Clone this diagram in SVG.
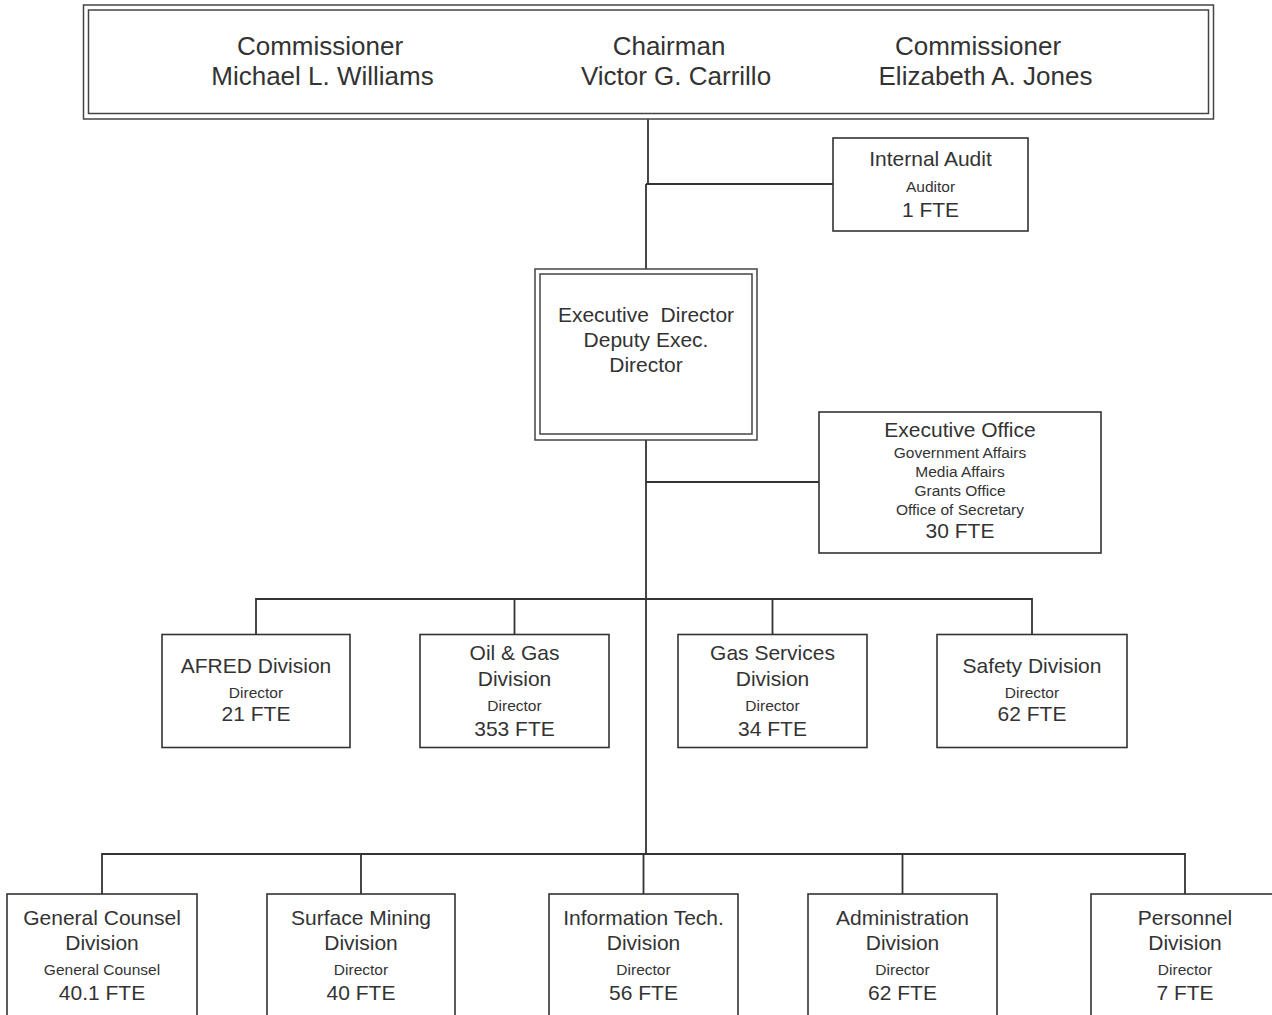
<svg xmlns="http://www.w3.org/2000/svg" width="1272" height="1015" viewBox="0 0 1272 1015">
<style>
  .box { fill: #ffffff; stroke: #333333; stroke-width: 1.6; }
  .dbl { fill: none; stroke: #444444; stroke-width: 1.5; }
  .ln { fill: none; stroke: #333333; stroke-width: 1.8; }
  text { font-family: "Liberation Sans", Arial, sans-serif; fill: #333333; text-anchor: middle; }
  .xl { font-size: 26px; }
  .l { font-size: 21px; }
  .s { font-size: 15.5px; }
</style>
<rect x="0" y="0" width="1272" height="1015" fill="#ffffff"/>
<g id="connectors">
  <path class="ln" d="M648,119 V184 M646,184 V269 M646,184 H833"/>
  <path class="ln" d="M646,440 V854 M646,482 H819"/>
  <path class="ln" d="M256,634 V599 H1032 V635 M514.5,599 V635 M772.5,599 V635"/>
  <path class="ln" d="M102,894 V854 H1185 V894 M361,854 V894 M643.5,854 V894 M902.5,854 V894"/>
</g>
<g id="commission">
  <rect class="box" x="83.5" y="5" width="1130" height="114" style="stroke:#444;stroke-width:1.5"/>
  <rect class="dbl" x="88.5" y="10" width="1120" height="103.5"/>
  <text class="xl" x="320" y="55">Commissioner</text>
  <text class="xl" x="322.5" y="85">Michael L. Williams</text>
  <text class="xl" x="669" y="55">Chairman</text>
  <text class="xl" x="676" y="85">Victor G. Carrillo</text>
  <text class="xl" x="978" y="55">Commissioner</text>
  <text class="xl" x="985.5" y="85">Elizabeth A. Jones</text>
</g>
<g id="internal-audit">
  <rect class="box" x="833" y="138" width="195" height="93"/>
  <text class="l" x="930.5" y="166">Internal Audit</text>
  <text class="s" x="930.5" y="192">Auditor</text>
  <text class="l" x="930.5" y="217">1 FTE</text>
</g>
<g id="executive-director">
  <rect class="box" x="535" y="269" width="222" height="171" style="stroke:#444;stroke-width:1.5"/>
  <rect class="dbl" x="540" y="274" width="212" height="160"/>
  <text class="l" x="646" y="322" xml:space="preserve">Executive  Director</text>
  <text class="l" x="646" y="347">Deputy Exec.</text>
  <text class="l" x="646" y="372">Director</text>
</g>
<g id="executive-office">
  <rect class="box" x="819" y="412" width="282" height="141"/>
  <text class="l" x="960" y="437">Executive Office</text>
  <text class="s" x="960" y="458">Government Affairs</text>
  <text class="s" x="960" y="477">Media Affairs</text>
  <text class="s" x="960" y="496">Grants Office</text>
  <text class="s" x="960" y="515">Office of Secretary</text>
  <text class="l" x="960" y="538">30 FTE</text>
</g>
<g id="afred">
  <rect class="box" x="162" y="634.5" width="188" height="113"/>
  <text class="l" x="256" y="673">AFRED Division</text>
  <text class="s" x="256" y="698">Director</text>
  <text class="l" x="256" y="721">21 FTE</text>
</g>
<g id="oil-gas">
  <rect class="box" x="420" y="634.5" width="189" height="113"/>
  <text class="l" x="514.5" y="660">Oil &amp; Gas</text>
  <text class="l" x="514.5" y="686">Division</text>
  <text class="s" x="514.5" y="711">Director</text>
  <text class="l" x="514.5" y="736">353 FTE</text>
</g>
<g id="gas-services">
  <rect class="box" x="678" y="634.5" width="189" height="113"/>
  <text class="l" x="772.5" y="660">Gas Services</text>
  <text class="l" x="772.5" y="686">Division</text>
  <text class="s" x="772.5" y="711">Director</text>
  <text class="l" x="772.5" y="736">34 FTE</text>
</g>
<g id="safety">
  <rect class="box" x="937" y="634.5" width="190" height="113"/>
  <text class="l" x="1032" y="673">Safety Division</text>
  <text class="s" x="1032" y="698">Director</text>
  <text class="l" x="1032" y="721">62 FTE</text>
</g>
<g id="general-counsel">
  <rect class="box" x="7" y="894" width="190" height="140"/>
  <text class="l" x="102" y="925">General Counsel</text>
  <text class="l" x="102" y="950">Division</text>
  <text class="s" x="102" y="975">General Counsel</text>
  <text class="l" x="102" y="1000">40.1 FTE</text>
</g>
<g id="surface-mining">
  <rect class="box" x="267" y="894" width="188" height="140"/>
  <text class="l" x="361" y="925">Surface Mining</text>
  <text class="l" x="361" y="950">Division</text>
  <text class="s" x="361" y="975">Director</text>
  <text class="l" x="361" y="1000">40 FTE</text>
</g>
<g id="information-tech">
  <rect class="box" x="549" y="894" width="189" height="140"/>
  <text class="l" x="643.5" y="925">Information Tech.</text>
  <text class="l" x="643.5" y="950">Division</text>
  <text class="s" x="643.5" y="975">Director</text>
  <text class="l" x="643.5" y="1000">56 FTE</text>
</g>
<g id="administration">
  <rect class="box" x="808" y="894" width="189" height="140"/>
  <text class="l" x="902.5" y="925">Administration</text>
  <text class="l" x="902.5" y="950">Division</text>
  <text class="s" x="902.5" y="975">Director</text>
  <text class="l" x="902.5" y="1000">62 FTE</text>
</g>
<g id="personnel">
  <rect class="box" x="1091" y="894" width="190" height="140"/>
  <text class="l" x="1185" y="925">Personnel</text>
  <text class="l" x="1185" y="950">Division</text>
  <text class="s" x="1185" y="975">Director</text>
  <text class="l" x="1185" y="1000">7 FTE</text>
</g>
</svg>
